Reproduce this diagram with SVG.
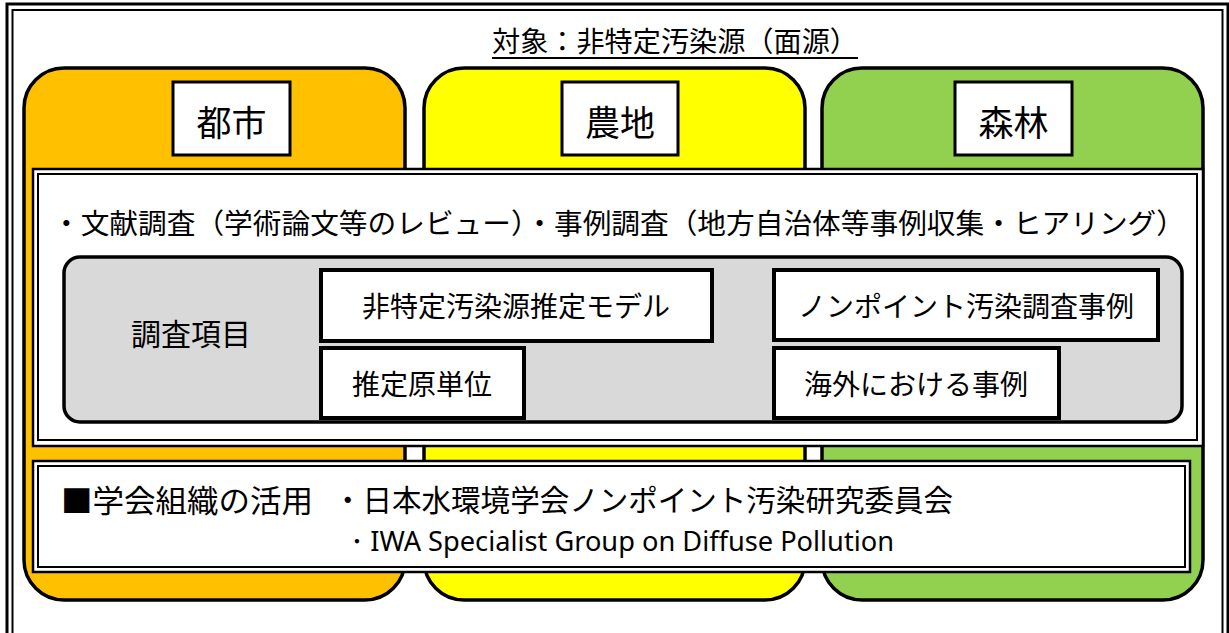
<svg xmlns="http://www.w3.org/2000/svg" width="1229" height="633" viewBox="0 0 1229 633">
<style>
.jp{font-family:"Noto Sans CJK JP","Noto Sans",sans-serif;fill:#000}
.col{stroke:#000;stroke-width:3.5}
.lbl{fill:#fff;stroke:#000;stroke-width:3}
.item{fill:#fff;stroke:#000;stroke-width:4}
.dbl-o{fill:#fff;stroke:#000;stroke-width:2.5}
.dbl-i{fill:#fff;stroke:#000;stroke-width:2}
</style>
<rect width="1229" height="633" fill="#fff"/>
<g id="frame">
<rect x="7" y="4" width="1221" height="640" fill="none" stroke="#000" stroke-width="3"/>
<rect x="12.5" y="10" width="1210" height="630" fill="none" stroke="#000" stroke-width="2"/>
</g>
<g id="title">
<text class="jp" x="675" y="52" font-size="28" text-anchor="middle" textLength="366" lengthAdjust="spacingAndGlyphs">対象：非特定汚染源（面源）</text>
<line x1="492" y1="58" x2="858" y2="58" stroke="#000" stroke-width="2"/>
</g>
<g id="col-urban">
<rect class="col" x="24" y="68" width="381" height="532" rx="40" fill="#FFC000"/>
<rect class="lbl" x="173" y="82" width="117" height="73"/>
<text class="jp" x="231.5" y="120" font-size="35" text-anchor="middle" dominant-baseline="central">都市</text>
</g>
<g id="col-farm">
<rect class="col" x="424" y="68" width="381" height="532" rx="40" fill="#FFFF00"/>
<rect class="lbl" x="562" y="82" width="116" height="73"/>
<text class="jp" x="620" y="120" font-size="35" text-anchor="middle" dominant-baseline="central">農地</text>
</g>
<g id="col-forest">
<rect class="col" x="822" y="68" width="381" height="532" rx="40" fill="#92D050"/>
<rect class="lbl" x="955" y="82" width="117" height="73"/>
<text class="jp" x="1013.5" y="120" font-size="35" text-anchor="middle" dominant-baseline="central">森林</text>
</g>
<g id="survey">
<rect class="dbl-o" x="33" y="169" width="1170" height="277"/>
<rect class="dbl-i" x="38" y="174" width="1159" height="266"/>
<text class="jp" x="52" y="222" font-size="28" dominant-baseline="central" textLength="1133" lengthAdjust="spacingAndGlyphs">・文献調査（学術論文等のレビュー）・事例調査（地方自治体等事例収集・ヒアリング）</text>
</g>
<g id="items">
<rect x="64" y="257" width="1118" height="165" rx="16" fill="#D9D9D9" stroke="#000" stroke-width="3.5"/>
<text class="jp" x="191" y="332" font-size="30" text-anchor="middle" dominant-baseline="central">調査項目</text>
</g>
<g id="item-model">
<rect class="item" x="321" y="270" width="391" height="71"/>
<text class="jp" x="516" y="305" font-size="28" text-anchor="middle" dominant-baseline="central">非特定汚染源推定モデル</text>
</g>
<g id="item-unit">
<rect class="item" x="321" y="348" width="203" height="70"/>
<text class="jp" x="422" y="383" font-size="28" text-anchor="middle" dominant-baseline="central">推定原単位</text>
</g>
<g id="item-nonpoint">
<rect class="item" x="774" y="270" width="384" height="70"/>
<text class="jp" x="966" y="305" font-size="28" text-anchor="middle" dominant-baseline="central">ノンポイント汚染調査事例</text>
</g>
<g id="item-overseas">
<rect class="item" x="774" y="348" width="285" height="70"/>
<text class="jp" x="916" y="383" font-size="28" text-anchor="middle" dominant-baseline="central">海外における事例</text>
</g>
<g id="societies">
<rect class="dbl-o" x="33" y="461" width="1157" height="111"/>
<rect class="dbl-i" x="38" y="466" width="1147" height="101"/>
<text class="jp" x="61" y="498" font-size="31" dominant-baseline="central" textLength="252" lengthAdjust="spacingAndGlyphs">■学会組織の活用</text>
<text class="jp" x="333" y="498" font-size="30" dominant-baseline="central" textLength="620" lengthAdjust="spacingAndGlyphs">・日本水環境学会ノンポイント汚染研究委員会</text>
<text x="343" y="540" font-family="'Noto Sans','Open Sans',sans-serif" font-size="28" dominant-baseline="central" textLength="551" lengthAdjust="spacingAndGlyphs">・IWA Specialist Group on Diffuse Pollution</text>
</g>
<g id="connectors"></g>
</svg>
